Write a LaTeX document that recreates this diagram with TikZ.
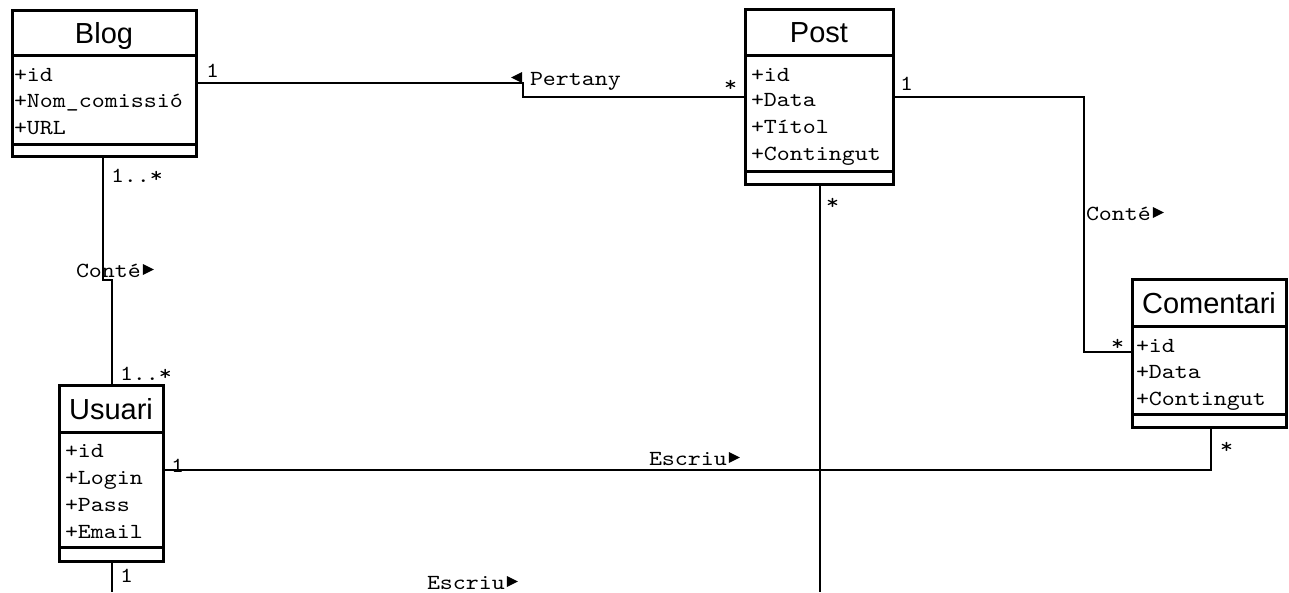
\documentclass[tikz,border=0pt]{standalone}
\usepackage{fontspec}
\setmainfont{Liberation Sans}
\newfontfamily\mono{lmmono10-regular.otf}[FakeStretch=1.15]
\newfontfamily\titlefont{Liberation Sans}
\newcommand\rtri{\tikz[baseline=-2pt]\fill (0pt,0pt) -- (11pt,5.5pt) -- (0pt,11pt) -- cycle;}
\newcommand\ltri{\tikz[baseline=-2pt]\fill (11pt,0pt) -- (0pt,5.5pt) -- (11pt,11pt) -- cycle;}
\begin{document}
\begin{tikzpicture}[x=1pt,y=-1pt,
  cbox/.style={draw, line width=3pt, outer sep=0pt, inner sep=0pt, anchor=north west, fill=white},
  ctitle/.style={cbox, font=\titlefont\fontsize{29}{29}\selectfont, text height=21pt, text depth=0pt},
  attr/.style={anchor=base west, inner sep=0pt, outer sep=0pt, font=\mono\fontsize{21.5}{21.5}\selectfont},
  lbl/.style={attr},
  conn/.style={line width=2.5pt},
]
\fill[white] (0,0) rectangle (1289,592);
\useasboundingbox (0,0) rectangle (1289,592);

% Blog
\node[ctitle, minimum width=184, minimum height=45] (blogT) at (12,10) {Blog};
\node[cbox, minimum width=184, minimum height=89] (blogA) at (12,55) {};
\node[cbox, minimum width=184, minimum height=12] (blogO) at (12,144) {};
\node[attr] (blog1) at (14,81) {+id};
\node[attr] (blog2) at (14,107) {+Nom\_comissió};
\node[attr] (blog3) at (14,134) {+URL};

% Post
\node[ctitle, minimum width=148, minimum height=46] (postT) at (745,9) {Post};
\node[cbox, minimum width=148, minimum height=116] (postA) at (745,55) {};
\node[cbox, minimum width=148, minimum height=13] (postO) at (745,171) {};
\node[attr] (post1) at (751,81) {+id};
\node[attr] (post2) at (751,106) {+Data};
\node[attr] (post3) at (751,133) {+Títol};
\node[attr] (post4) at (751,160) {+Contingut};

% Comentari
\node[ctitle, minimum width=154, minimum height=47] (comT) at (1132,279) {Comentari};
\node[cbox, minimum width=154, minimum height=88] (comA) at (1132,326) {};
\node[cbox, minimum width=154, minimum height=13] (comO) at (1132,414) {};
\node[attr] (com1) at (1136,352) {+id};
\node[attr] (com2) at (1136,378) {+Data};
\node[attr] (com3) at (1136,405) {+Contingut};

% Usuari
\node[ctitle, minimum width=104, minimum height=47] (usuT) at (59,385) {Usuari};
\node[cbox, minimum width=104, minimum height=115] (usuA) at (59,432) {};
\node[cbox, minimum width=104, minimum height=14] (usuO) at (59,547) {};
\node[attr] (usu1) at (65,457) {+id};
\node[attr] (usu2) at (65,484) {+Login};
\node[attr] (usu3) at (65,511) {+Pass};
\node[attr] (usu4) at (65,538) {+Email};

% connectors
\draw[conn] (blogA.east |- 0,83) -- (523,83) -- (523,97) -- (postA.west |- 0,97);
\draw[conn] (blogO.south -| 103,0) -- (103,280) -- (112,280) -- (usuT.north -| 112,0);
\draw[conn] (postA.east |- 0,97) -- (1084,97) -- (1084,352) -- (comA.west |- 0,352);
\draw[conn] (comO.south -| 1211,0) -- (1211,470) -- (usuA.east |- 0,470);
\coordinate (postEnd) at (820,592);
\draw[conn] (postO.south -| 820,0) -- (postEnd);
\coordinate (usuEnd) at (112,592);
\draw[conn] (usuO.south -| 112,0) -- (usuEnd);

% labels
\node[lbl] (l1) at (206,77) {1};
\node[lbl] (lPert) at (511,85) {\ltri\hspace{8pt}Pertany};
\node[lbl] (lstar1) at (724,91) {*};
\node[lbl] (l2) at (900,90) {1};
\node[lbl] (lConteR) at (1086,220) {Conté\hspace{2pt}\rtri};
\node[lbl] (lstar2) at (1111,350) {*};
\node[lbl] (lstar3) at (826,209) {*};
\node[lbl] (lstar4) at (1220,453) {*};
\node[lbl] (lEsc1) at (649,465) {Escriu\hspace{2pt}\rtri};
\node[lbl] (l3) at (171,472) {1};
\node[lbl] (l4) at (120,582) {1};
\node[lbl] (lEsc2) at (427,589) {Escriu\hspace{2pt}\rtri};
\node[lbl] (lm1) at (111,182) {1..*};
\node[lbl] (lConteL) at (76,277) {Conté\hspace{2pt}\rtri};
\node[lbl] (lm2) at (120,380) {1..*};
\end{tikzpicture}
\end{document}
